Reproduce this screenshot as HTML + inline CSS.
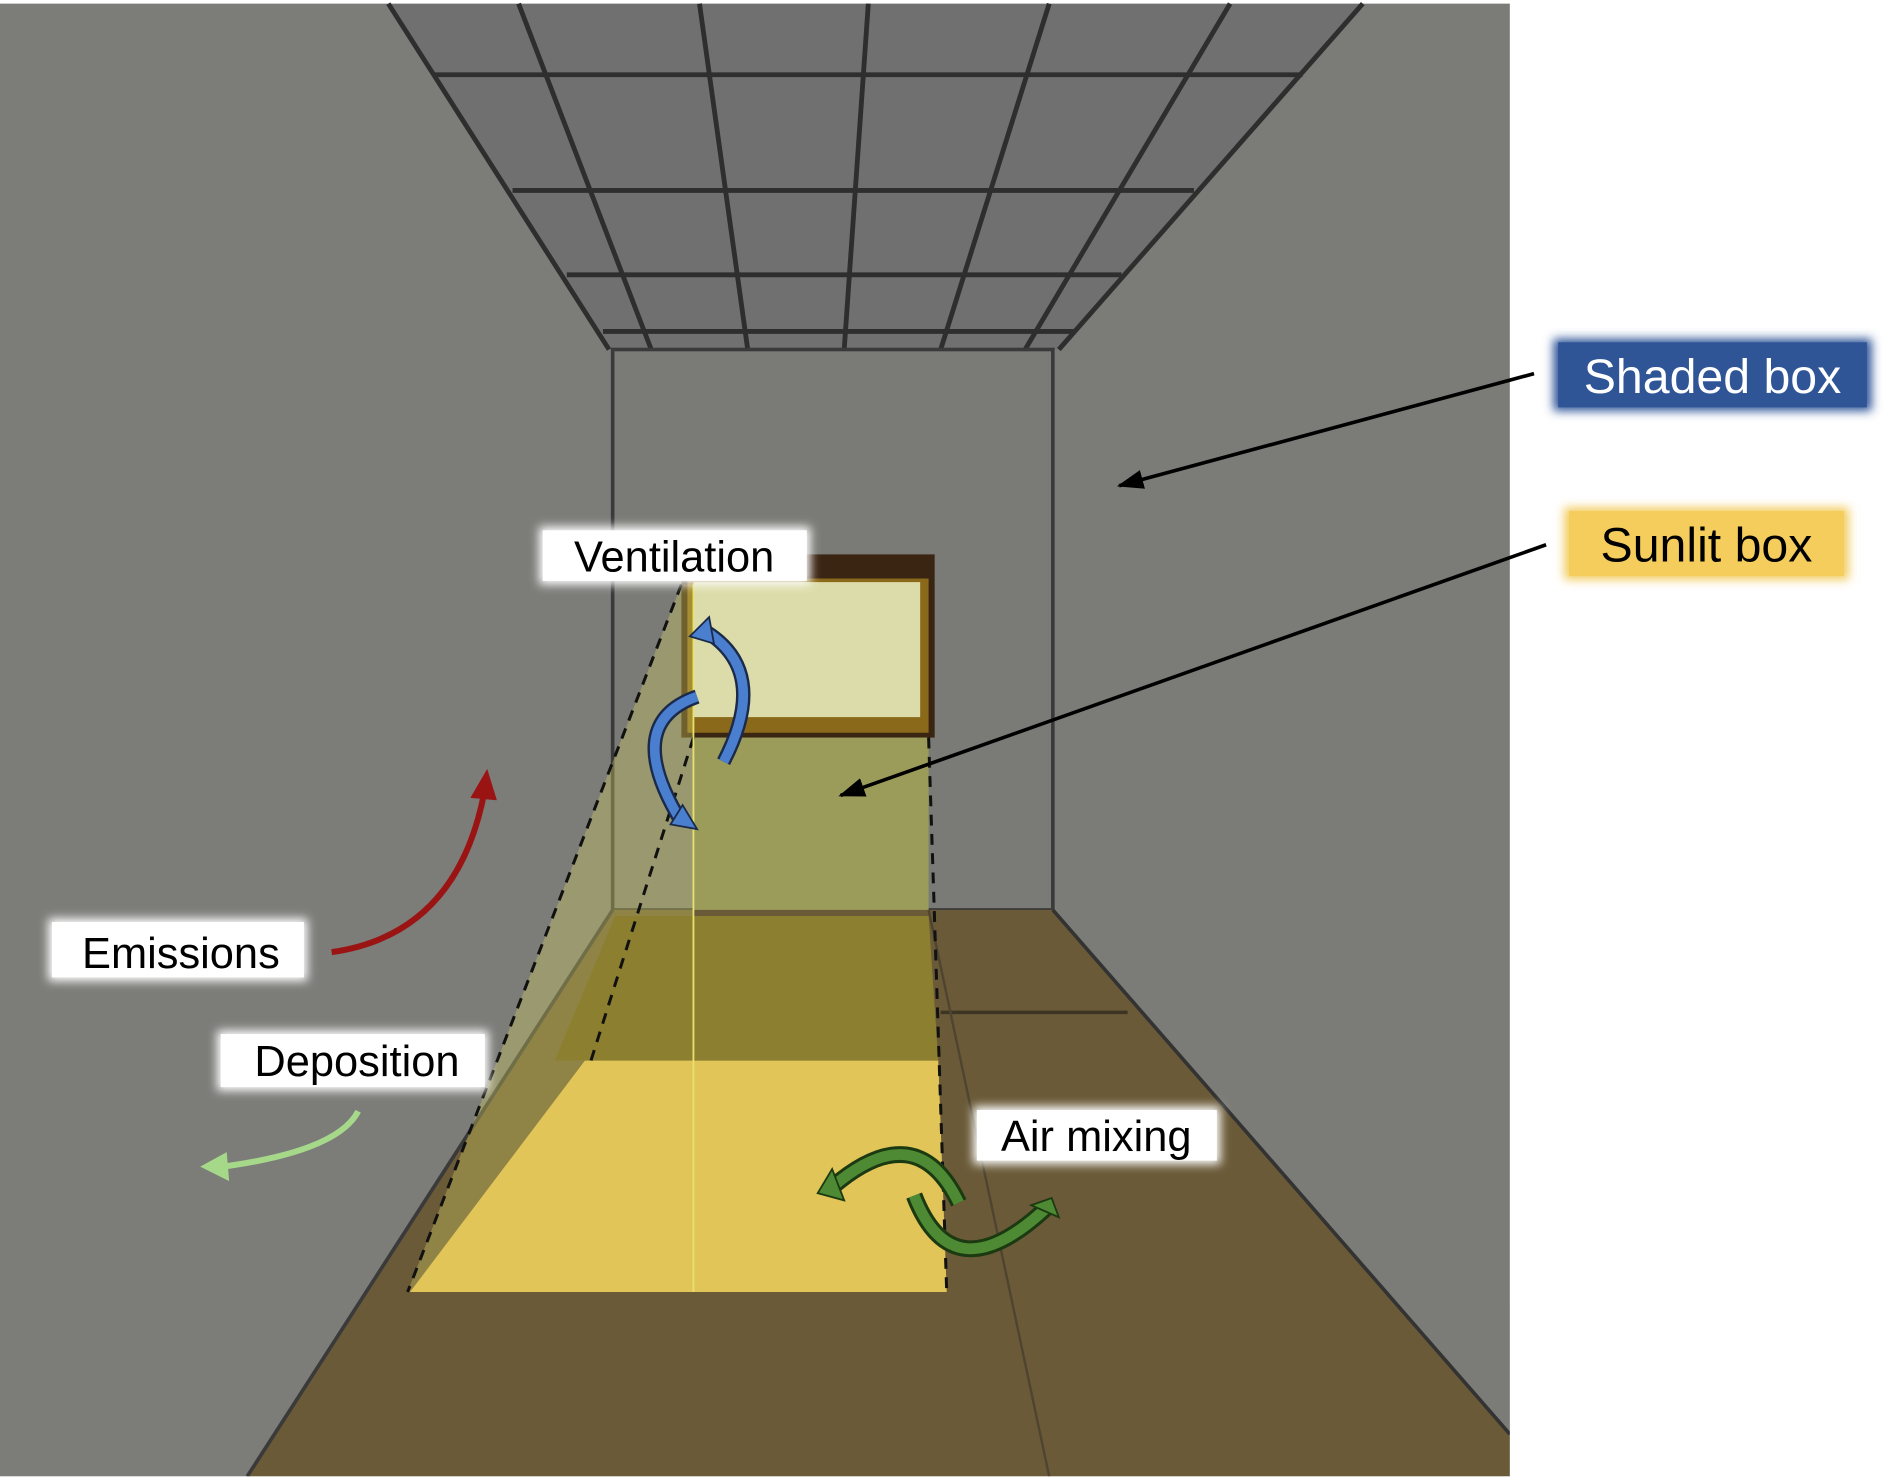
<!DOCTYPE html>
<html><head><meta charset="utf-8"><style>
html,body{margin:0;padding:0;background:#fff;}
svg{display:block;}
text{font-family:"Liberation Sans",sans-serif;}
</style></head><body>
<svg width="1891" height="1480" viewBox="0 0 1568 1228" preserveAspectRatio="none" xmlns="http://www.w3.org/2000/svg">
<defs>
<filter id="gl" x="-20%" y="-40%" width="140%" height="180%"><feGaussianBlur stdDeviation="4"/></filter>
<marker id="ah" markerWidth="24" markerHeight="16" refX="20" refY="8" orient="auto" markerUnits="userSpaceOnUse"><path d="M0,0 L22,8 L0,16z" fill="#000"/></marker>
</defs>
<rect x="0" y="0" width="1568" height="1228" fill="#fff"/>
<polygon points="0,3 322,3 508,290 508,755 205,1225 0,1225" fill="#7c7c79"/>
<polygon points="1130,3 1252,3 1252,1190 873,755 873,290" fill="#7b7b77"/>
<polygon points="322,3 1130,3 878,290 505,290" fill="#707070"/>
<g stroke="#2e2e2e" stroke-width="4" fill="none">
<line x1="360" y1="62" x2="1080" y2="62"/>
<line x1="425" y1="158" x2="990" y2="158"/>
<line x1="470" y1="228" x2="930" y2="228"/>
<line x1="500" y1="275" x2="890" y2="275"/>
<line x1="430" y1="3" x2="540" y2="290"/>
<line x1="580" y1="3" x2="620" y2="290"/>
<line x1="720" y1="3" x2="700" y2="290"/>
<line x1="870" y1="3" x2="780" y2="290"/>
<line x1="1020" y1="3" x2="850" y2="290"/>
<line x1="322" y1="3" x2="505" y2="290"/>
<line x1="1130" y1="3" x2="878" y2="290"/>
</g>
<rect x="508" y="290" width="365" height="465" fill="#7a7a76" stroke="#3a3a3a" stroke-width="3"/>
<polygon points="508,755 873,755 1252,1190 1252,1225 205,1225" fill="#6a5a38"/>
<line x1="873" y1="755" x2="1252" y2="1190" stroke="#333" stroke-width="3"/>
<line x1="508" y1="755" x2="205" y2="1225" stroke="#3a3a3a" stroke-width="3"/>
<line x1="780" y1="840" x2="935" y2="840" stroke="#3e3424" stroke-width="3"/>
<line x1="770" y1="755" x2="870" y2="1225" stroke="#4e4430" stroke-width="2"/>
<rect x="565" y="460" width="210" height="152" fill="#3a2412"/>
<rect x="570" y="480" width="200" height="128" fill="#8a6a1a"/>
<rect x="575" y="483" width="188" height="112" fill="#dcdcaa"/>
<polygon points="565,485 575,485 575,1072 338,1072" fill="#d8d060" opacity="0.35"/>
<rect x="575" y="612" width="195" height="143" fill="#9c9c5a"/>
<polygon points="510,760 770,760 778,880 460,880" fill="#8c8030"/>
<polygon points="485,880 778,880 785,1072 340,1072" fill="#e2c558"/>
<g stroke="#111" stroke-width="2.5" stroke-dasharray="9,7" fill="none">
<line x1="565" y1="485" x2="338" y2="1072"/>
<line x1="575" y1="612" x2="490" y2="880"/>
<line x1="770" y1="612" x2="785" y2="1072"/>
</g>
<line x1="575" y1="485" x2="575" y2="1072" stroke="#e8e070" stroke-width="1.5"/>
<rect x="1252" y="0" width="316" height="1228" fill="#fff"/>
<rect x="0" y="1225" width="1568" height="3" fill="#fff"/>
<line x1="1272" y1="310" x2="928" y2="403" stroke="#000" stroke-width="3" marker-end="url(#ah)"/>
<line x1="1282" y1="452" x2="697" y2="660" stroke="#000" stroke-width="3" marker-end="url(#ah)"/>
<path d="M275,790 Q380,775 402,655" stroke="#9b1414" stroke-width="5" fill="none"/>
<polygon points="390,662 404,638 412,664" fill="#9b1414"/>
<path d="M297,922 Q280,955 185,968" stroke="#a6d88a" stroke-width="5" fill="none"/>
<polygon points="188,956 166,968 190,980" fill="#a6d88a"/>
<path d="M582,522 Q640,555 600,632" stroke="#1b2a4a" stroke-width="12" fill="none"/>
<path d="M582,522 Q640,555 600,632" stroke="#4a7fd0" stroke-width="8" fill="none"/>
<polygon points="572,528 588,512 592,534" fill="#4a7fd0" stroke="#1b2a4a" stroke-width="1.5"/>
<path d="M578,578 Q515,600 565,682" stroke="#1b2a4a" stroke-width="12" fill="none"/>
<path d="M578,578 Q515,600 565,682" stroke="#4a7fd0" stroke-width="8" fill="none"/>
<polygon points="556,684 578,688 566,668" fill="#4a7fd0" stroke="#1b2a4a" stroke-width="1.5"/>
<path d="M795,998 Q760,925 690,985" stroke="#1c3a12" stroke-width="14" fill="none"/>
<path d="M795,998 Q760,925 690,985" stroke="#4e8a34" stroke-width="9" fill="none"/>
<polygon points="678,990 690,970 700,996" fill="#4e8a34" stroke="#1c3a12" stroke-width="1.5"/>
<path d="M758,992 Q790,1075 868,1002" stroke="#1c3a12" stroke-width="14" fill="none"/>
<path d="M758,992 Q790,1075 868,1002" stroke="#4e8a34" stroke-width="9" fill="none"/>
<polygon points="855,1000 872,994 878,1010" fill="#4e8a34" stroke="#1c3a12" stroke-width="1.5"/>
<g>
<rect x="447" y="437" width="225" height="48" fill="#fff" filter="url(#gl)"/>
<rect x="450" y="440" width="219" height="42" fill="#fff"/>
<text x="559" y="474" font-size="36" text-anchor="middle" fill="#000">Ventilation</text>
<rect x="40" y="762" width="215" height="52" fill="#fff" filter="url(#gl)"/>
<rect x="43" y="765" width="209" height="46" fill="#fff"/>
<text x="150" y="803" font-size="36" text-anchor="middle" fill="#000">Emissions</text>
<rect x="180" y="855" width="225" height="50" fill="#fff" filter="url(#gl)"/>
<rect x="183" y="858" width="219" height="44" fill="#fff"/>
<text x="296" y="893" font-size="36" text-anchor="middle" fill="#000">Deposition</text>
<rect x="807" y="918" width="205" height="48" fill="#fff" filter="url(#gl)"/>
<rect x="810" y="921" width="199" height="42" fill="#fff"/>
<text x="909" y="955" font-size="36" text-anchor="middle" fill="#000">Air mixing</text>
<rect x="1288" y="281" width="264" height="60" fill="#2f5597" filter="url(#gl)"/>
<rect x="1292" y="284" width="256" height="54" fill="#2f5597"/>
<text x="1420" y="326" font-size="40" text-anchor="middle" fill="#fff">Shaded box</text>
<rect x="1297" y="421" width="236" height="60" fill="#f2cc5e" filter="url(#gl)"/>
<rect x="1301" y="424" width="228" height="54" fill="#f5cd5c"/>
<text x="1415" y="466" font-size="40" text-anchor="middle" fill="#000">Sunlit box</text>
</g>
</svg>
</body></html>
